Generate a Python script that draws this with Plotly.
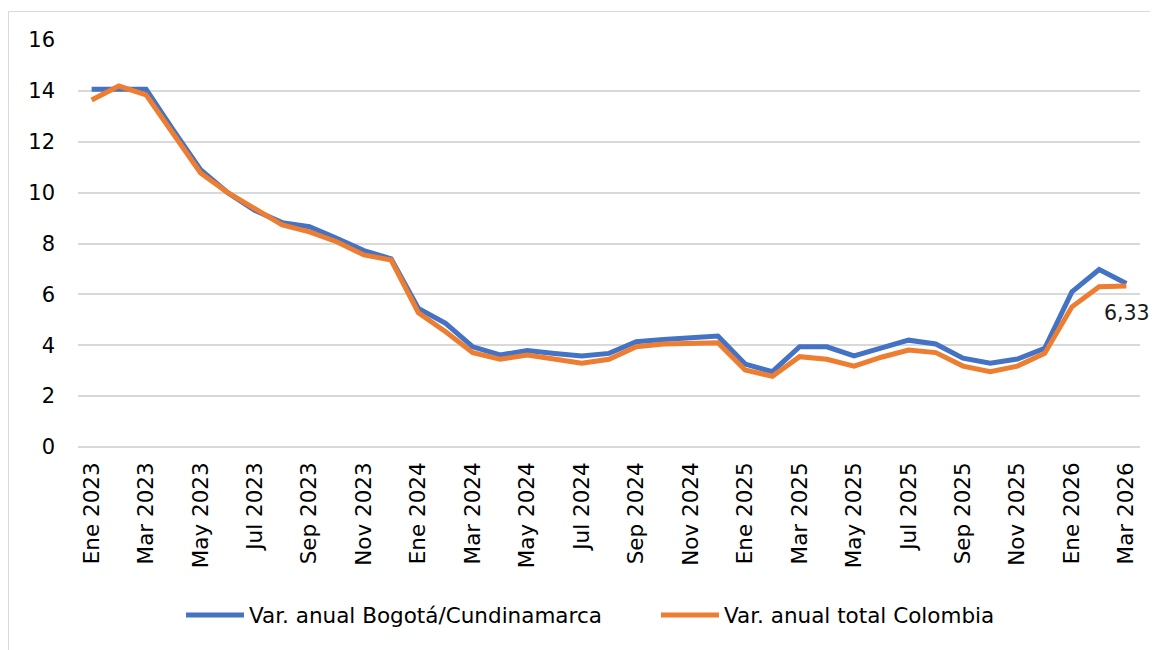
import plotly.graph_objects as go

meses = ["Ene", "Feb", "Mar", "Abr", "May", "Jun", "Jul", "Ago", "Sep", "Oct", "Nov", "Dic"]
categorias = [f"{m} {a}" for a in (2023, 2024, 2025, 2026) for m in meses][:39]

bogota = [14.06, 14.06, 14.06, 12.46, 10.90, 10.00, 9.30, 8.82, 8.66, 8.20, 7.72, 7.40,
          5.45, 4.86, 3.94, 3.62, 3.79, 3.68, 3.58, 3.68, 4.14, 4.23, 4.31, 4.36,
          3.26, 2.96, 3.94, 3.94, 3.58, 3.91, 4.20, 4.05, 3.49, 3.29, 3.46, 3.88,
          6.10, 6.98, 6.43]
colombia = [13.64, 14.19, 13.84, 12.30, 10.77, 10.00, 9.35, 8.73, 8.46, 8.07, 7.55, 7.35,
            5.28, 4.53, 3.71, 3.45, 3.62, 3.45, 3.29, 3.45, 3.94, 4.05, 4.07, 4.10,
            3.03, 2.78, 3.55, 3.45, 3.18, 3.53, 3.81, 3.71, 3.18, 2.96, 3.18, 3.68,
            5.51, 6.30, 6.33]

nombres = ["Var. anual Bogotá/Cundinamarca", "Var. anual total Colombia"]
colores = ["#4472C4", "#ED7D31"]
etiqueta_final = "6,33"

FONT = "DejaVu Sans"

fig = go.Figure()
for nombre, serie, color in zip(nombres, [bogota, colombia], colores):
    fig.add_trace(go.Scatter(x=categorias, y=serie, mode="lines", name=nombre,
                             line=dict(color=color, width=5, shape="linear")))

fig.add_annotation(x=categorias[-1], y=colombia[-1], text=etiqueta_final, showarrow=False,
                   xshift=1, yshift=-27, font=dict(family=FONT, size=20.5, color="#1a1a1a"))

# page body adds an 8px offset; figure coords = screen coords - 8
OFF = 8
W, H = 1158 - OFF, 650 - OFF
L, T = 78 - OFF, 40 - OFF
R = W - (1140 - OFF)
B = H - (447 - OFF)
pw, ph = W - L - R, H - T - B
fig.add_shape(type="rect", xref="paper", yref="paper",
              x0=(8.5 - 78) / pw, x1=(1175 - 78) / pw,
              y0=(447 - 670) / ph, y1=(447 - 11.5) / ph,
              line=dict(color="#D9D9D9", width=1), fillcolor="rgba(0,0,0,0)", layer="below")

fig.update_layout(
    width=W, height=H,
    margin=dict(l=L, r=R, t=T, b=B),
    paper_bgcolor="white", plot_bgcolor="white",
    font=dict(family=FONT, size=21, color="#000000"),
    showlegend=True,
    legend=dict(orientation="h", x=(173 - L) / pw, xanchor="left",
                y=(447 - 615) / ph, yanchor="middle",
                font=dict(family=FONT, size=21.5, color="#000000"),
                itemwidth=58, entrywidth=402, entrywidthmode="pixels",
                bgcolor="rgba(0,0,0,0)"),
    xaxis=dict(type="category", categoryorder="array", categoryarray=categorias,
               range=[-0.5, 38.5], tickmode="array", tickvals=categorias[::2],
               ticktext=categorias[::2], tickangle=-90, showgrid=False, zeroline=False,
               showline=False, ticks="", ticklabelstandoff=10,
               tickfont=dict(family=FONT, size=21.5, color="#000000")),
    yaxis=dict(range=[0, 16], tickmode="array", tickvals=list(range(0, 17, 2)),
               showgrid=True, gridcolor="#D9D9D9", gridwidth=1.5,
               zeroline=True, zerolinecolor="#D9D9D9", zerolinewidth=1.5,
               showline=False, ticks="", ticklabelstandoff=22,
               tickfont=dict(family=FONT, size=21, color="#000000")),
)

fig.write_html("out.html")
